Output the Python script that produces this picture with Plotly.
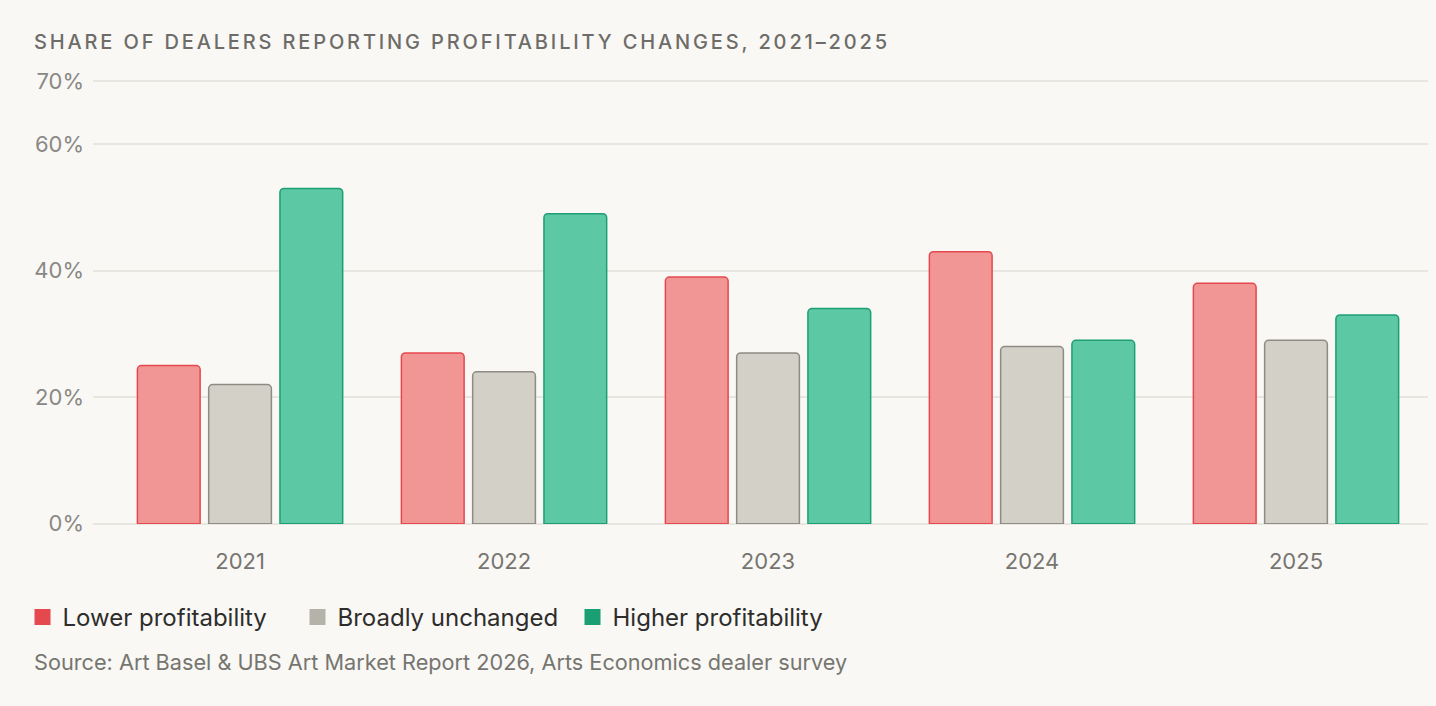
"""
Dealer profitability chart - share of dealers reporting lower / unchanged / higher
profitability, 2021-2025 (Art Basel & UBS Art Market Report 2026)
"""

# region Block 0 - Imports & Setup
import plotly.graph_objects as go

WIDTH  = 1436
HEIGHT = 706

BG_COLOR    = "#F9F8F5"
GRID_COLOR  = "#E8E6E1"
FONT_FAMILY = "Inter, Arial, sans-serif"
# endregion


# region Block 1 - Data
YEARS       = ["2021", "2022", "2023", "2024", "2025"]
LOWER       = [25, 27, 39, 43, 38]
UNCHANGED   = [22, 24, 27, 28, 29]
HIGHER      = [53, 49, 34, 29, 33]

SERIES_NAMES = ["Lower profitability", "Broadly unchanged", "Higher profitability"]
Y_TICKS      = [0, 20, 40, 60, 70]
Y_TICK_TEXT  = ["0%", "20%", "40%", "60%", "70%"]

TITLE  = "SHARE OF DEALERS REPORTING PROFITABILITY CHANGES, 2021–2025"
SOURCE = "Source: Art Basel & UBS Art Market Report 2026, Arts Economics dealer survey"
# endregion


# region Block 2 - Create Chart
# (fill, outline, legend swatch)
STYLES = [
    ("#F19694", "#E5484D", "#E5484D"),
    ("#D3D0C8", "#8E8B84", "#B5B2AA"),
    ("#5CC9A4", "#1D9E75", "#1A9E74"),
]

fig = go.Figure()

for name, values, (fill, line, _) in zip(SERIES_NAMES, [LOWER, UNCHANGED, HIGHER], STYLES):
    fig.add_trace(go.Bar(
        name=name,
        x=YEARS,
        y=values,
        marker=dict(color=fill, line=dict(color=line, width=1.5)),
        showlegend=False,
        hovertemplate="%{x}: %{y}%<extra>" + name + "</extra>",
    ))

# legend-only entries: swatches are the solid colours, not the bar fills
for name, (_, _, swatch) in zip(SERIES_NAMES, STYLES):
    fig.add_trace(go.Scatter(
        name=name,
        x=[None], y=[None],
        mode="markers",
        marker=dict(symbol="square", size=16, color=swatch),
        showlegend=True,
    ))

fig.add_annotation(
    xref="paper", yref="paper",
    x=-0.0457, y=-0.311,
    text=SOURCE,
    showarrow=False,
    xanchor="left", yanchor="middle",
    font=dict(family=FONT_FAMILY, size=21.7, color="#77756F"),
)

fig.update_layout(
    width=WIDTH,
    height=HEIGHT,
    paper_bgcolor=BG_COLOR,
    plot_bgcolor=BG_COLOR,
    font=dict(family=FONT_FAMILY),
    title=dict(
        text=TITLE,
        font=dict(family=FONT_FAMILY, size=20, weight=500, color="#6E6C68"),
        x=34 / WIDTH, xanchor="left",
        y=1 - 42 / HEIGHT, yanchor="middle",
        xref="container", yref="container",
    ),
    barmode="group",
    bargap=0.19,
    bargroupgap=0.12,
    barcornerradius=4,
    margin=dict(l=93, r=8, t=79, b=182),
    showlegend=True,
    legend=dict(
        orientation="h",
        x=-0.0528, xanchor="left",
        y=-0.21, yanchor="middle",
        bgcolor="rgba(0,0,0,0)",
        entrywidth=230, entrywidthmode="pixels",
        font=dict(family=FONT_FAMILY, size=24, color="#2E2D2B"),
        itemclick=False, itemdoubleclick=False,
    ),
    xaxis=dict(
        range=[-0.557, 4.5],
        showgrid=False, zeroline=False, showline=False,
        ticks="", ticklabelstandoff=22,
        tickfont=dict(family=FONT_FAMILY, size=22, color="#77756F"),
    ),
    yaxis=dict(
        range=[-0.05, 70.3],
        tickvals=Y_TICKS,
        ticktext=Y_TICK_TEXT,
        showgrid=True, gridcolor=GRID_COLOR, gridwidth=1.5,
        zeroline=True, zerolinecolor=GRID_COLOR, zerolinewidth=1.5,
        showline=False,
        ticks="", ticklabelstandoff=8,
        tickfont=dict(family=FONT_FAMILY, size=22, color="#8A8884"),
    ),
)
# endregion


# region Block 3 - Export
# page margin off, page background matched, tracked-out caps for the title
POST_JS = (
    "document.body.style.margin='0';"
    "document.body.style.background='" + BG_COLOR + "';"
    "var t=document.querySelector('.gtitle');"
    "if(t){t.style.letterSpacing='2.85px';}"
)
fig.write_html("out.html", post_script=POST_JS, config={"displayModeBar": False})
print("out.html written")
# endregion
